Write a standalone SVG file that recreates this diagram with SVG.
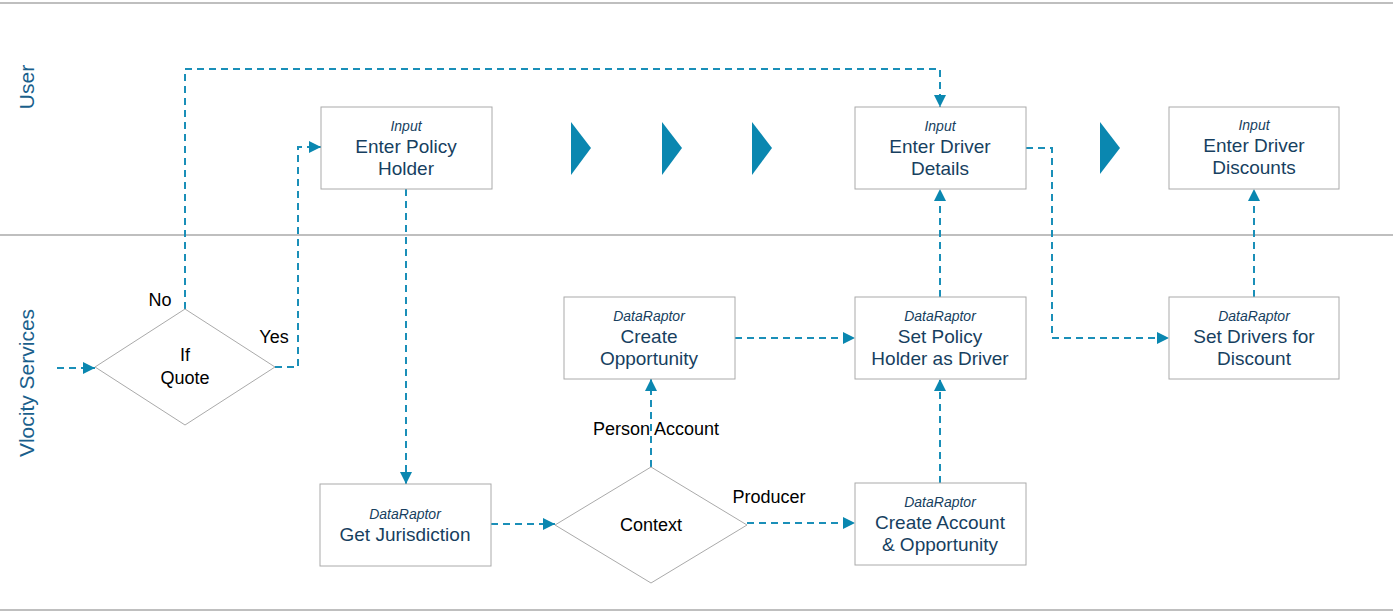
<svg xmlns="http://www.w3.org/2000/svg" width="1393" height="612" viewBox="0 0 1393 612">
<style>
.b{fill:#fff;stroke:#aaa;stroke-width:1}
.t{font-family:"Liberation Sans",Arial,sans-serif;fill:#173f5f;font-size:19px;text-anchor:middle}
.i{font-style:italic;font-size:14px}
.k{font-family:"Liberation Sans",Arial,sans-serif;fill:#000;font-size:18px;text-anchor:middle}
.c{fill:none;stroke:#1a8fb8;stroke-width:2;stroke-dasharray:7,5;marker-end:url(#a)}
.ch{fill:#0a87b0}
.ln{stroke:#aaa;stroke-width:1.5}
.lane{font-family:"Liberation Sans",Arial,sans-serif;fill:#1a5f8c;font-size:21px;text-anchor:middle}
</style>
<defs><marker id="a" viewBox="0 0 10 10" refX="10" refY="5" markerWidth="12" markerHeight="12" orient="auto" markerUnits="userSpaceOnUse"><path d="M0,0L10,5L0,10z" fill="#0a87b0"/></marker></defs>
<rect width="1393" height="612" fill="#fff"/>
<line class="ln" x1="0" y1="3" x2="1393" y2="3"/>
<line class="ln" x1="0" y1="235" x2="1393" y2="235"/>
<line class="ln" x1="0" y1="610" x2="1393" y2="610"/>
<text class="lane" transform="translate(34,87) rotate(-90)">User</text>
<text class="lane" transform="translate(34,383) rotate(-90)">Vlocity Services</text>
<g id="chevrons">
<polygon class="ch" points="571,122 591,148 571,175"/>
<polygon class="ch" points="662,122 682,148 662,175"/>
<polygon class="ch" points="752,122 772,148 752,175"/>
<polygon class="ch" points="1100,122 1120,148 1100,174"/>
</g>
<g id="connectors">
<path class="c" d="M57,368H95"/>
<path class="c" d="M185,309V69H940V107"/>
<path class="c" d="M275,367H298V147H321"/>
<path class="c" d="M406,189V484"/>
<path class="c" d="M491,524H555"/>
<path class="c" d="M651,467V379"/>
<path class="c" d="M735,338H855"/>
<path class="c" d="M747,523H855"/>
<path class="c" d="M940,483V379"/>
<path class="c" d="M940,297V189"/>
<path class="c" d="M1026,148H1052V338H1169"/>
<path class="c" d="M1254,297V189"/>
<text class="k" x="160" y="306">No</text>
<text class="k" x="274" y="343">Yes</text>
<text class="k" x="656" y="435">Person Account</text>
<text class="k" x="769" y="503">Producer</text>
</g>
<g id="ifquote"><polygon class="b" points="95,367 185,309 275,367 185,425"/><text class="k" x="185" y="361">If</text><text class="k" x="185" y="384">Quote</text></g>
<g id="context"><polygon class="b" points="555,525 651,467 747,525 651,583"/><text class="k" x="651" y="531">Context</text></g>
<g id="n1"><rect class="b" x="321" y="107" width="171" height="82"/><text class="t i" x="406" y="131">Input</text><text class="t" x="406" y="153">Enter Policy</text><text class="t" x="406" y="175">Holder</text></g>
<g id="n2"><rect class="b" x="855" y="107" width="171" height="82"/><text class="t i" x="940" y="131">Input</text><text class="t" x="940" y="153">Enter Driver</text><text class="t" x="940" y="175">Details</text></g>
<g id="n3"><rect class="b" x="1169" y="107" width="170" height="82"/><text class="t i" x="1254" y="130">Input</text><text class="t" x="1254" y="152">Enter Driver</text><text class="t" x="1254" y="174">Discounts</text></g>
<g id="n4"><rect class="b" x="564" y="297" width="171" height="82"/><text class="t i" x="649" y="321">DataRaptor</text><text class="t" x="649" y="343">Create</text><text class="t" x="649" y="365">Opportunity</text></g>
<g id="n5"><rect class="b" x="855" y="297" width="171" height="82"/><text class="t i" x="940" y="321">DataRaptor</text><text class="t" x="940" y="343">Set Policy</text><text class="t" x="940" y="365">Holder as Driver</text></g>
<g id="n6"><rect class="b" x="1169" y="297" width="170" height="82"/><text class="t i" x="1254" y="321">DataRaptor</text><text class="t" x="1254" y="343">Set Drivers for</text><text class="t" x="1254" y="365">Discount</text></g>
<g id="n7"><rect class="b" x="320" y="484" width="171" height="82"/><text class="t i" x="405" y="519">DataRaptor</text><text class="t" x="405" y="541">Get Jurisdiction</text></g>
<g id="n8"><rect class="b" x="855" y="483" width="171" height="82"/><text class="t i" x="940" y="507">DataRaptor</text><text class="t" x="940" y="529">Create Account</text><text class="t" x="940" y="551">&amp; Opportunity</text></g>
</svg>
